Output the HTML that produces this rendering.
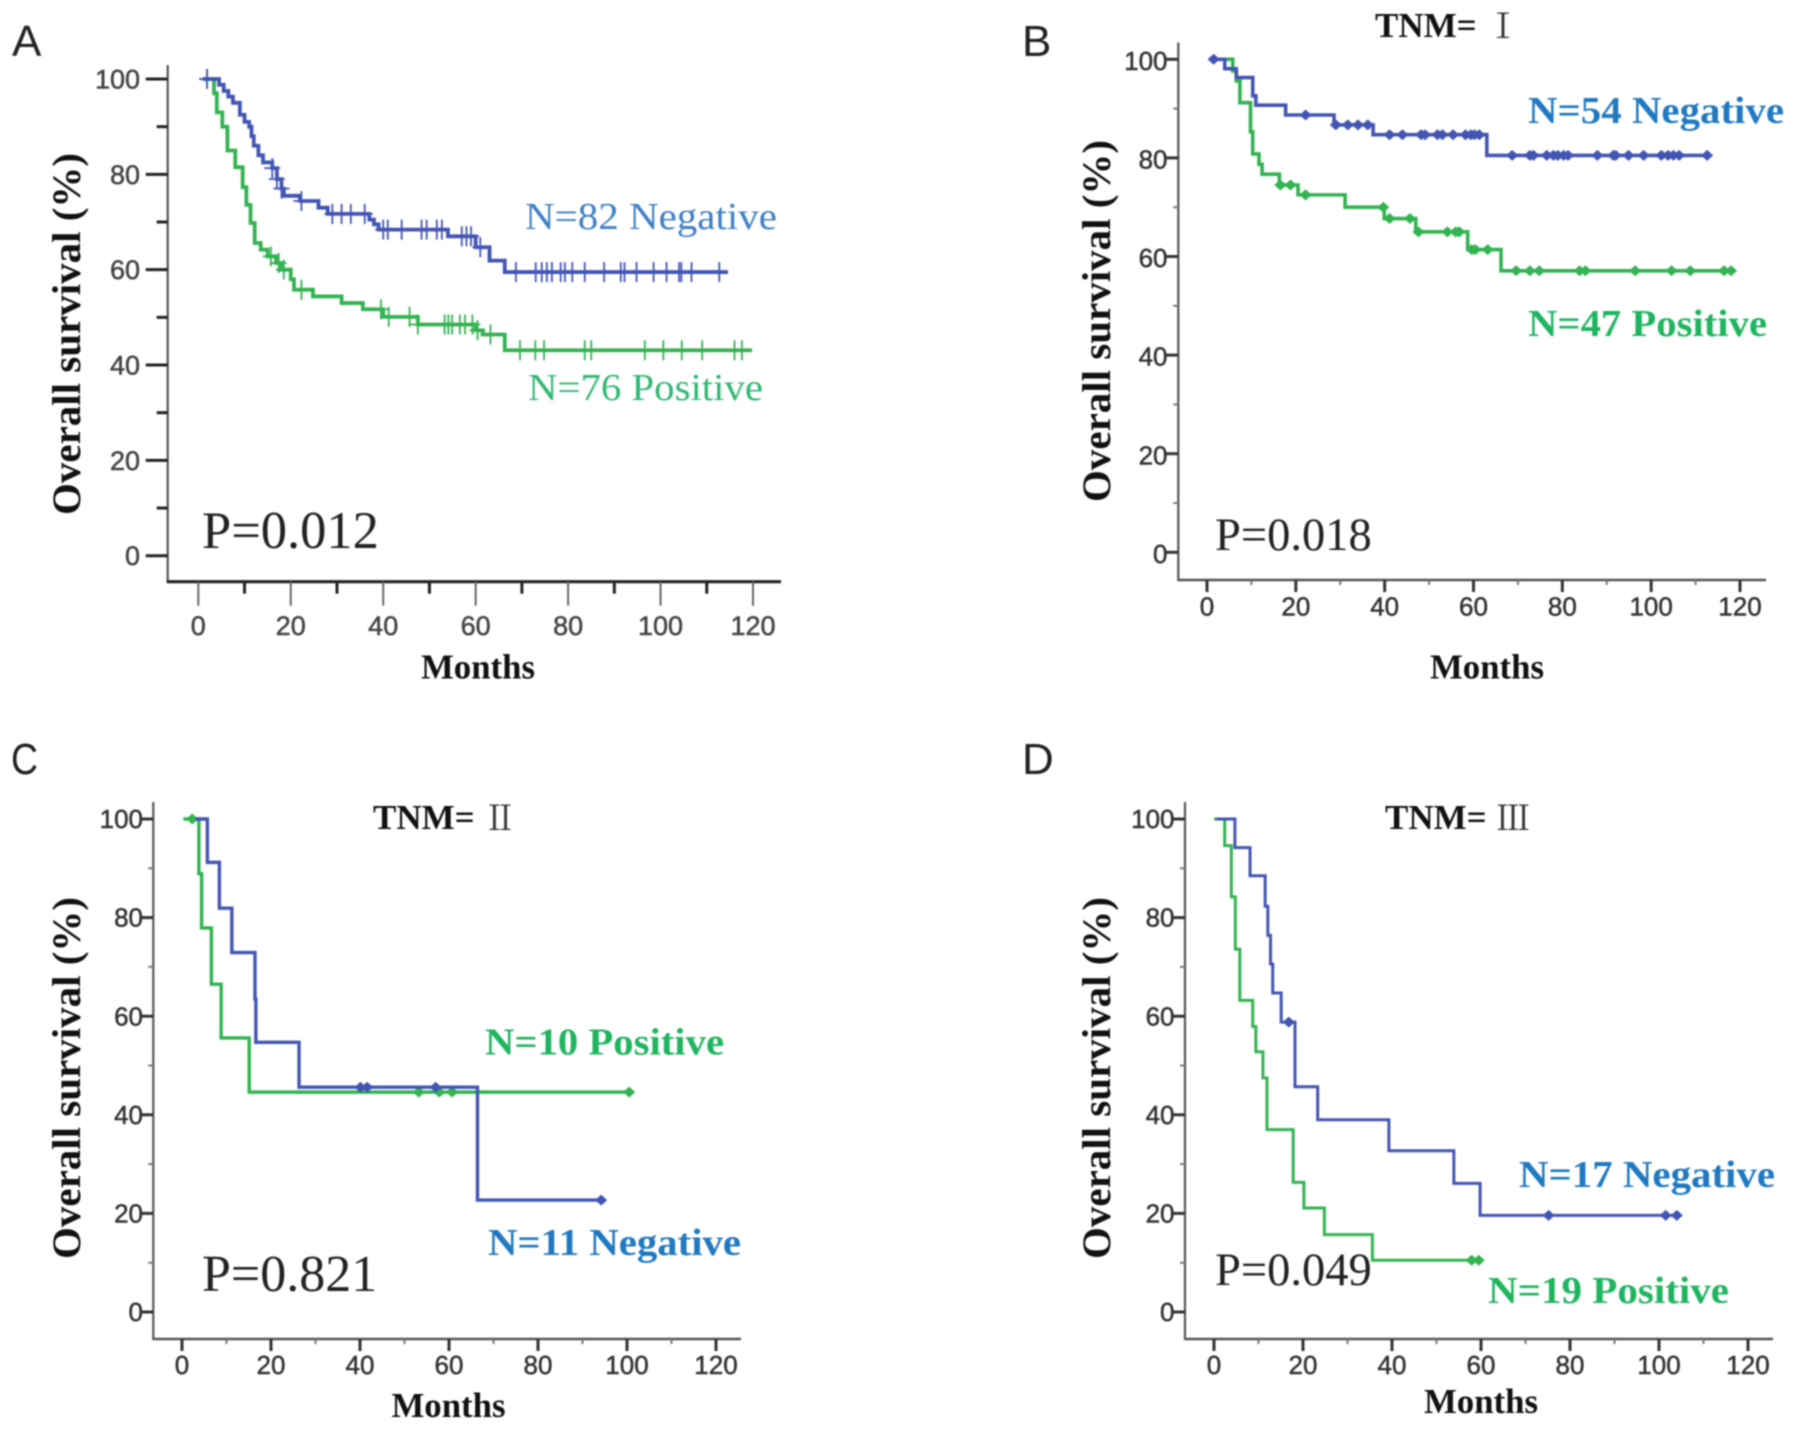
<!DOCTYPE html>
<html lang="en">
<head>
<meta charset="utf-8">
<title>Kaplan-Meier overall survival curves</title>
<style>
html,body{margin:0;padding:0;background:#fff;}
#figure{display:block;width:1795px;height:1430px;filter:blur(0.8px);}
text{font-family:"Liberation Sans",sans-serif;}
.serif,.serif text{font-family:"Liberation Serif","Noto Serif CJK SC",serif;}
.bold{font-weight:bold;}
</style>
</head>
<body>
<svg id="figure" xmlns="http://www.w3.org/2000/svg" width="1795" height="1430" viewBox="0 0 1795 1430">
  <rect x="0" y="0" width="1795" height="1430" fill="#fff"/>

  <text x="12" y="56" font-size="44" fill="#222">A</text>
  <text x="1022" y="56" font-size="44" fill="#222">B</text>
  <text x="11" y="774" font-size="44" textLength="27" lengthAdjust="spacingAndGlyphs" fill="#222">C</text>
  <text x="1022" y="774" font-size="44" fill="#222">D</text>

  <g class="serif">
    <text class="bold" transform="translate(80,334) rotate(-90)" text-anchor="middle" font-size="40" textLength="362" lengthAdjust="spacingAndGlyphs" fill="#111">Overall survival (%)</text>
    <text class="bold" transform="translate(1110,321) rotate(-90)" text-anchor="middle" font-size="40" textLength="362" lengthAdjust="spacingAndGlyphs" fill="#111">Overall survival (%)</text>
    <text class="bold" transform="translate(80,1078) rotate(-90)" text-anchor="middle" font-size="40" textLength="362" lengthAdjust="spacingAndGlyphs" fill="#111">Overall survival (%)</text>
    <text class="bold" transform="translate(1110,1078) rotate(-90)" text-anchor="middle" font-size="40" textLength="362" lengthAdjust="spacingAndGlyphs" fill="#111">Overall survival (%)</text>

    <text class="bold" x="478" y="678.5" text-anchor="middle" font-size="34.8" fill="#111">Months</text>
    <text class="bold" x="1487" y="678.5" text-anchor="middle" font-size="34.8" fill="#111">Months</text>
    <text class="bold" x="448.5" y="1417" text-anchor="middle" font-size="34.8" fill="#111">Months</text>
    <text class="bold" x="1481" y="1413" text-anchor="middle" font-size="34.8" fill="#111">Months</text>

    <text x="202" y="548" font-size="52.5" fill="#222">P=0.012</text>
    <text x="1215" y="550" font-size="46.5" fill="#222">P=0.018</text>
    <text x="202" y="1291" font-size="52" fill="#222">P=0.821</text>
    <text x="1215" y="1285" font-size="46.5" fill="#222">P=0.049</text>

    <text x="525" y="229" font-size="38" textLength="252" lengthAdjust="spacingAndGlyphs" fill="#3f80c4">N=82 Negative</text>
    <text x="528" y="400" font-size="38" textLength="235" lengthAdjust="spacingAndGlyphs" fill="#2fb873">N=76 Positive</text>
    <text class="bold" x="1528" y="123" font-size="38" textLength="256" lengthAdjust="spacingAndGlyphs" fill="#2079c0">N=54 Negative</text>
    <text class="bold" x="1528" y="336" font-size="38" textLength="239" lengthAdjust="spacingAndGlyphs" fill="#1fb55f">N=47 Positive</text>
    <text class="bold" x="485" y="1054.5" font-size="38" textLength="239" lengthAdjust="spacingAndGlyphs" fill="#1fb55f">N=10 Positive</text>
    <text class="bold" x="488" y="1255" font-size="38" textLength="253" lengthAdjust="spacingAndGlyphs" fill="#2079c0">N=11 Negative</text>
    <text class="bold" x="1519" y="1187" font-size="38" textLength="256" lengthAdjust="spacingAndGlyphs" fill="#2079c0">N=17 Negative</text>
    <text class="bold" x="1488" y="1303" font-size="38" textLength="241" lengthAdjust="spacingAndGlyphs" fill="#1fb55f">N=19 Positive</text>

    <text class="bold" x="1375" y="37" font-size="35" fill="#111">TNM=</text>
    <text x="1486" y="38" font-size="34" fill="#333">Ⅰ</text>
    <text class="bold" x="373" y="829" font-size="35" fill="#111">TNM=</text>
    <text x="483" y="830" font-size="34" fill="#333">Ⅱ</text>
    <text class="bold" x="1385" y="829" font-size="35" fill="#111">TNM=</text>
    <text x="1496" y="830" font-size="34" fill="#333">Ⅲ</text>
  </g>
</svg>
<script>
// Shared axis labels
const xTickLabels = [0, 20, 40, 60, 80, 100, 120];
const yTickLabels = [0, 20, 40, 60, 80, 100];

// Panel A
const aNegTimes = [1, 4.5, 5.5, 6.5, 7.5, 9, 10, 11, 11.5, 12, 13, 14, 16, 17, 18, 18.5, 22, 26, 28, 37, 38, 39, 54, 60, 63, 66.3];
const aNegValues = [100, 98.8, 97.5, 96.3, 95, 92.5, 91, 90, 88, 86, 84, 82.5, 81.3, 79, 77, 75.5, 74.4, 73, 71.7, 70.5, 69.5, 68.4, 67, 64.7, 61.9, 59.5];
const aNegEnd = 114.6;
const aNegCensored = [1.9, 16, 17, 18, 22.3, 29, 31, 33, 36, 40, 41, 44, 48.3, 49.4, 51.6, 52.7, 57, 58, 59, 61, 68.7, 73, 74.3, 75.4, 76.5, 78.4, 79.3, 80.9, 83.6, 87.8, 91.4, 92.2, 94.8, 98.5, 101.3, 104, 104.5, 106.7, 112.7];
const aPosTimes = [1, 3.4, 4, 5.2, 6.3, 8, 9.6, 10.4, 11.3, 12.2, 13.5, 15, 16.8, 18, 20, 20.7, 24.8, 31, 35.6, 40, 47.5, 60, 61.5, 66.3];
const aPosValues = [100, 97, 93, 90, 85, 81.5, 77.3, 73.6, 69.8, 65.6, 64.2, 62.8, 61.4, 60, 58, 55.8, 54.4, 53, 51.7, 50.1, 48.5, 47.3, 46.4, 43.1];
const aPosEnd = 119.8;
const aPosCensored = [1.9, 15.7, 17.4, 18.5, 22.3, 39.5, 41.2, 45.7, 47.5, 53.3, 54.1, 54.9, 56.6, 57.7, 59.3, 60.4, 63.2, 69.6, 72.9, 74.8, 83.6, 85, 96.6, 100.6, 104.6, 109, 116, 117.6];

// Panel B
const bNegTimes = [0.5, 4, 6.6, 10.3, 11, 17.7, 28.6, 37.4, 63];
const bNegValues = [100, 98.1, 96.3, 92.6, 90.7, 88.7, 86.7, 84.7, 80.5];
const bNegEnd = 113;
const bNegCensored = [1.5, 22.2, 29, 31.7, 34, 36.2, 41.1, 44, 48.2, 49.1, 51.9, 53, 55.4, 58.2, 59.4, 60.2, 61.3, 68.7, 72.7, 73.5, 76.5, 78, 79, 80.3, 81.3, 87.9, 91.5, 92, 94.9, 98.3, 102.3, 103.8, 105, 106.3, 112.6];
const bPosTimes = [1.5, 5.8, 6.6, 7.4, 9.8, 10.3, 11.7, 12.4, 16.3, 20.5, 31.1, 39.9, 47, 58.7, 66.2];
const bPosValues = [100, 97.6, 95.6, 91.2, 85.3, 80.8, 78.7, 76.7, 74.5, 72.5, 70, 67.7, 65, 61.4, 57.1];
const bPosEnd = 118.3;
const bPosCensored = [16.5, 18.8, 22.2, 39.7, 41.1, 45.7, 47.6, 54.1, 56, 56.8, 59.6, 60.4, 63.2, 69.6, 72.7, 74.8, 83.9, 85.2, 96.4, 104.6, 108.8, 116.4, 118];

// Panel C
const cNegTimes = [3, 5.7, 8.4, 11.2, 16.4, 16.6, 26.3, 66.4];
const cNegValues = [100, 91.2, 81.9, 72.9, 63.5, 54.7, 45.6, 22.7];
const cNegEnd = 94.8;
const cNegCensored = [40.1, 41.6, 57, 94.2];
const cPosTimes = [0.3, 3.8, 4.4, 6.6, 8.8, 15.1];
const cPosValues = [100, 88.9, 77.9, 66.5, 55.6, 44.6];
const cPosEnd = 101.3;
const cPosCensored = [2.3, 53.2, 57.8, 60.7, 100.5];

// Panel D
const dNegTimes = [0.5, 4.7, 8.1, 11.5, 12.1, 12.7, 13.2, 15.1, 18.2, 23.3, 39.3, 53.9, 59.8];
const dNegValues = [100, 94.2, 88.5, 82.3, 76.4, 70.6, 64.7, 58.8, 45.7, 39, 32.7, 26.1, 19.6];
const dNegEnd = 104.7;
const dNegCensored = [16.8, 75.2, 101.5, 104];
const dPosTimes = [0, 2.4, 3.9, 4.8, 5.8, 8.7, 9.4, 11, 11.9, 17.8, 20.2, 24.8, 35.6];
const dPosValues = [100, 94.6, 84.2, 73.6, 63.2, 57.9, 52.8, 47.5, 37, 26.3, 21.1, 15.7, 10.5];
const dPosEnd = 60.2;
const dPosCensored = [57.9, 59.5];

const NS = 'http://www.w3.org/2000/svg';
const root = document.getElementById('figure');

function make(tag, attrs, parent) {
  const node = document.createElementNS(NS, tag);
  for (const k in attrs) node.setAttribute(k, attrs[k]);
  parent.appendChild(node);
  return node;
}

function stepValueAt(times, values, t) {
  let v = values[0];
  for (let i = 0; i < times.length; i++) {
    if (t >= times[i]) v = values[i];
  }
  return v;
}

function drawAxes(p, g) {
  const sx = m => p.x0 + (p.x120 - p.x0) * m / 120;
  const sy = v => p.y0 + (p.y100 - p.y0) * v / 100;

  const yAxis = make('line', {x1: p.axisX, x2: p.axisX, y1: p.yTop, y2: p.axisY, stroke: p.yAxisColor, 'stroke-width': p.yAxisWidth}, g);
  
  

  const xAxis = make('line', {x1: p.axisX - 1, x2: p.xRight, y1: p.axisY, y2: p.axisY, stroke: p.xAxisColor, 'stroke-width': p.xAxisWidth}, g);
  
  

  for (let m = 10; m < 120; m += 20) {
    const minor = make('line', {x1: sx(m), x2: sx(m), y1: p.axisY, y2: p.axisY + p.xMinorLen, stroke: p.xMinorColor, 'stroke-width': p.xMinorWidth}, g);
    
    
  }
  for (let v = 10; v < 100; v += 20) {
    const minor = make('line', {x1: p.axisX - p.yMinorLen, x2: p.axisX, y1: sy(v), y2: sy(v), stroke: p.yMinorColor, 'stroke-width': p.yMinorWidth}, g);
    
    
  }
  xTickLabels.forEach(m => {
    const tick = make('line', {x1: sx(m), x2: sx(m), y1: p.axisY, y2: p.axisY + p.xMajorLen, stroke: p.xMajorColor, 'stroke-width': p.xMajorWidth}, g);
    
    
    const label = make('text', {x: sx(m), y: p.xLabelY, 'text-anchor': 'middle', 'font-size': p.tickFont, fill: p.tickColor, stroke: p.tickColor, 'stroke-width': 0.5}, g);
    
    
    label.textContent = m;
  });
  yTickLabels.forEach(v => {
    const tick = make('line', {x1: p.axisX - p.yMajorLen, x2: p.axisX, y1: sy(v), y2: sy(v), stroke: p.yMajorColor, 'stroke-width': p.yMajorWidth}, g);
    
    
    const label = make('text', {x: p.yLabelX, y: sy(v) + p.tickFont * 0.35 + p.yLabelShift, 'text-anchor': 'end', 'font-size': p.tickFont, fill: p.tickColor, stroke: p.tickColor, 'stroke-width': 0.5}, g);
    
    
    label.textContent = v;
  });
  return {sx, sy};
}

function drawSeries(p, scales, name, color, times, values, end, censored, g) {
  const {sx, sy} = scales;
  let d = 'M' + sx(times[0]) + ' ' + sy(values[0]);
  for (let i = 1; i < times.length; i++) {
    d += 'H' + sx(times[i]) + 'V' + sy(values[i]);
  }
  d += 'H' + sx(end);
  const line = make('path', {d: d, fill: 'none', stroke: color, 'stroke-width': p.lineWidth, 'stroke-linejoin': 'miter'}, g);
  
  

  censored.forEach(t => {
    const cx = sx(t);
    const cy = sy(stepValueAt(times, values, t));
    let mark;
    if (p.plusMarks) {
      const vert = 'M' + cx + ' ' + (cy - 10) + 'V' + (cy + 10);
      const horiz = 'M' + (cx - 8) + ' ' + cy + 'H' + (cx + 8);
      mark = make('path', {d: vert + horiz, fill: 'none', stroke: color, 'stroke-width': 1.8}, g);
    } else {
      const diamond = 'M' + (cx - 6) + ' ' + cy + 'L' + cx + ' ' + (cy - 5.5) + 'L' + (cx + 6) + ' ' + cy + 'L' + cx + ' ' + (cy + 5.5) + 'Z';
      mark = make('path', {d: diamond, fill: color, stroke: 'none'}, g);
    }
    
    
  });
}

const panels = [
  {id: 'panel-a', axisX: 167.7, axisY: 581.7, yTop: 65, xRight: 781, x0: 198.3, x120: 753, y0: 555.7, y100: 79,
   yAxisColor: '#555', yAxisWidth: 2.2, xAxisColor: '#222', xAxisWidth: 3.2,
   xMinorLen: 12, xMinorColor: '#222', xMinorWidth: 3, xMajorLen: 24, xMajorColor: '#666', xMajorWidth: 2,
   yMinorLen: 11, yMinorColor: '#222', yMinorWidth: 3, yMajorLen: 22, yMajorColor: '#222', yMajorWidth: 3,
   xLabelY: 635, yLabelX: 140, yLabelShift: 0, tickFont: 27, tickColor: '#444', lineWidth: 3.8, plusMarks: true,
   neg: [aNegTimes, aNegValues, aNegEnd, aNegCensored], pos: [aPosTimes, aPosValues, aPosEnd, aPosCensored]},
  {id: 'panel-b', axisX: 1178.3, axisY: 580, yTop: 42.5, xRight: 1766, x0: 1207, x120: 1740, y0: 552.3, y100: 59.3,
   yAxisColor: '#555', yAxisWidth: 2.2, xAxisColor: '#555', xAxisWidth: 2.6,
   xMinorLen: 5, xMinorColor: '#777', xMinorWidth: 2, xMajorLen: 12, xMajorColor: '#333', xMajorWidth: 3,
   yMinorLen: 5, yMinorColor: '#777', yMinorWidth: 2, yMajorLen: 12, yMajorColor: '#333', yMajorWidth: 3,
   xLabelY: 615.7, yLabelX: 1167.5, yLabelShift: 1.5, tickFont: 26, tickColor: '#333', lineWidth: 3.6, plusMarks: false,
   neg: [bNegTimes, bNegValues, bNegEnd, bNegCensored], pos: [bPosTimes, bPosValues, bPosEnd, bPosCensored]},
  {id: 'panel-c', axisX: 153.3, axisY: 1339, yTop: 802, xRight: 741, x0: 182, x120: 716, y0: 1312, y100: 819,
   yAxisColor: '#555', yAxisWidth: 2.2, xAxisColor: '#555', xAxisWidth: 2.6,
   xMinorLen: 5, xMinorColor: '#777', xMinorWidth: 2, xMajorLen: 12, xMajorColor: '#333', xMajorWidth: 3,
   yMinorLen: 5, yMinorColor: '#777', yMinorWidth: 2, yMajorLen: 12, yMajorColor: '#333', yMajorWidth: 3,
   xLabelY: 1374, yLabelX: 143, yLabelShift: 0, tickFont: 26, tickColor: '#333', lineWidth: 3.4, plusMarks: false,
   neg: [cNegTimes, cNegValues, cNegEnd, cNegCensored], pos: [cPosTimes, cPosValues, cPosEnd, cPosCensored]},
  {id: 'panel-d', axisX: 1185, axisY: 1339, yTop: 802, xRight: 1773, x0: 1214, x120: 1748, y0: 1312, y100: 819,
   yAxisColor: '#555', yAxisWidth: 2.2, xAxisColor: '#555', xAxisWidth: 2.6,
   xMinorLen: 5, xMinorColor: '#777', xMinorWidth: 2, xMajorLen: 12, xMajorColor: '#333', xMajorWidth: 3,
   yMinorLen: 5, yMinorColor: '#777', yMinorWidth: 2, yMajorLen: 12, yMajorColor: '#333', yMajorWidth: 3,
   xLabelY: 1374, yLabelX: 1174.5, yLabelShift: 0, tickFont: 26, tickColor: '#333', lineWidth: 3, plusMarks: false,
   neg: [dNegTimes, dNegValues, dNegEnd, dNegCensored], pos: [dPosTimes, dPosValues, dPosEnd, dPosCensored]}
];

const NEG_COLOR = '#4355b3';
const POS_COLOR = '#33b352';

panels.forEach(p => {
  const g = make('g', {}, root);
  
  
  const scales = drawAxes(p, g);
  drawSeries(p, scales, 'positive', POS_COLOR, p.pos[0], p.pos[1], p.pos[2], p.pos[3], g);
  drawSeries(p, scales, 'negative', NEG_COLOR, p.neg[0], p.neg[1], p.neg[2], p.neg[3], g);
});
</script>
</body>
</html>
